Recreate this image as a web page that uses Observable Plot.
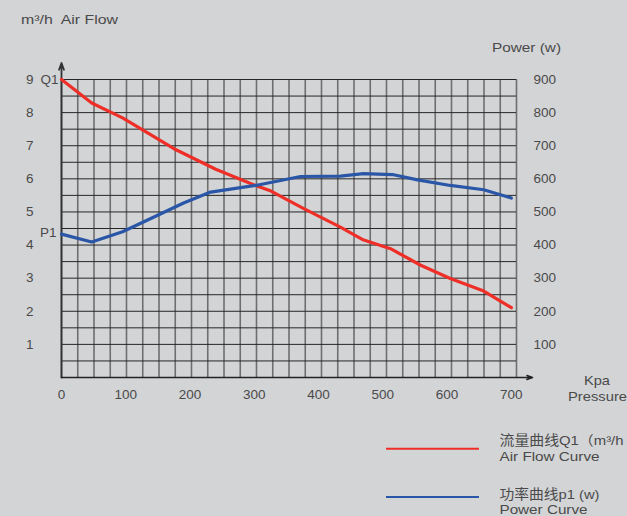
<!DOCTYPE html>
<html><head><meta charset="utf-8">
<script src="https://cdn.jsdelivr.net/npm/d3@7"></script>
<script src="https://cdn.jsdelivr.net/npm/@observablehq/plot@0.6"></script>
<style>
body{margin:0;background:#d3d4d6;}
#chart{position:relative;width:627px;height:516px;overflow:hidden;}
svg text{font-family:'Liberation Sans','Noto Sans CJK SC',Arial,sans-serif;}
</style></head><body><div id="chart"></div>
<script>
// tick labels
const pressureTicks = [0, 100, 200, 300, 400, 500, 600, 700];
const airFlowTicks = [1, 2, 3, 4, 5, 6, 7, 8, 9];
// Air flow curve Q1 (m³/h) vs pressure (Kpa)
const flowPressure = [0, 47, 95, 175, 240, 302, 326, 377, 434, 468, 512, 559, 605, 657, 700];
const flowValues   = [9.0, 8.29, 7.84, 6.91, 6.29, 5.80, 5.63, 5.10, 4.54, 4.17, 3.89, 3.39, 2.99, 2.61, 2.11];
// Power curve P1 (w) vs pressure (Kpa)
const powerPressure = [0, 47, 95, 139, 190, 232, 302, 372, 434, 470, 515, 554, 605, 657, 700];
const powerValues   = [433, 409, 440, 480, 527, 560, 580, 607, 608, 616, 613, 597, 580, 567, 542];

const xMax = 708;                       // grid extent (28 columns)
const gridX = d3.range(29).map(i => i * xMax / 28);
const gridY = d3.range(0, 9.01, 0.5);

const flow = flowPressure.map((p, i) => ({p, v: flowValues[i]}));
const power = powerPressure.map((p, i) => ({p, v: powerValues[i] / 100}));

const RED = "#ee2e27", BLUE = "#2a56a8", TXT = "#4a4a4a";

const svg = Plot.plot({
  width: 627, height: 516,
  marginLeft: 61, marginRight: 111, marginTop: 79, marginBottom: 139,
  style: {background: "#d3d4d6", color: TXT, fontSize: "13.5px", overflow: "visible"},
  x: {domain: [0, xMax]},
  y: {domain: [0, 9]},
  marks: [
    Plot.ruleX(gridX, {stroke: "#6e6e6e", strokeWidth: 1.6}),
    Plot.ruleY(gridY, {stroke: "#262626", strokeWidth: 1}),
    Plot.arrow([{x1: 0, y1: 0, x2: 0, y2: 9.5}], {x1: "x1", y1: "y1", x2: "x2", y2: "y2", stroke: "#333", strokeWidth: 1.8, headLength: 6, headAngle: 40}),
    Plot.arrow([{x1: 0, y1: 0, x2: 733, y2: 0}], {x1: "x1", y1: "y1", x2: "x2", y2: "y2", stroke: "#222", strokeWidth: 1.5, headLength: 6, headAngle: 40}),
    Plot.line(flow, {x: "p", y: "v", stroke: RED, strokeWidth: 3.2}),
    Plot.line(power, {x: "p", y: "v", stroke: BLUE, strokeWidth: 3.2}),
    Plot.axisX(pressureTicks, {tickSize: 0, tickPadding: 12, label: null, fill: TXT}),
    Plot.axisY(airFlowTicks, {anchor: "left", tickSize: 0, tickPadding: 28, label: null, fill: TXT}),
    Plot.axisY(airFlowTicks, {anchor: "right", tickSize: 0, tickPadding: 17, label: null, tickFormat: d => d * 100, fill: TXT}),
    Plot.text([flow[0]], {x: "p", y: "v", text: () => "Q1", textAnchor: "end", dx: -3, fill: TXT}),
    Plot.text([power[0]], {x: "p", y: "v", text: () => "P1", textAnchor: "end", dx: -5, dy: -1, fill: TXT})
  ]
});
document.getElementById("chart").appendChild(svg);

const s = d3.select(svg);
const labels = [
  {t: "m³/h\u00a0 Air Flow", x: 21, y: 24, w: 97},
  {t: "Power (w)", x: 492, y: 52, w: 69},
  {t: "Kpa", x: 584, y: 385, w: 26},
  {t: "Pressure", x: 568, y: 401, w: 59},
  {t: "流量曲线Q1（m³/h", x: 499.5, y: 445, w: 124},
  {t: "Air Flow Curve", x: 499.5, y: 461, w: 100},
  {t: "功率曲线p1 (w)", x: 499.5, y: 499, w: 100},
  {t: "Power Curve", x: 499.5, y: 513.5, w: 88}
];
labels.forEach(d => {
  s.append("text").attr("x", d.x).attr("y", d.y).attr("fill", TXT)
    .attr("text-anchor", "start").attr("font-size", 13.5)
    .attr("textLength", d.w).attr("lengthAdjust", "spacingAndGlyphs")
    .text(d.t);
});
s.append("line").attr("x1", 386).attr("x2", 479).attr("y1", 448.7).attr("y2", 448.7).attr("stroke", RED).attr("stroke-width", 2);
s.append("line").attr("x1", 386).attr("x2", 479).attr("y1", 497).attr("y2", 497).attr("stroke", BLUE).attr("stroke-width", 2);
</script></body></html>
